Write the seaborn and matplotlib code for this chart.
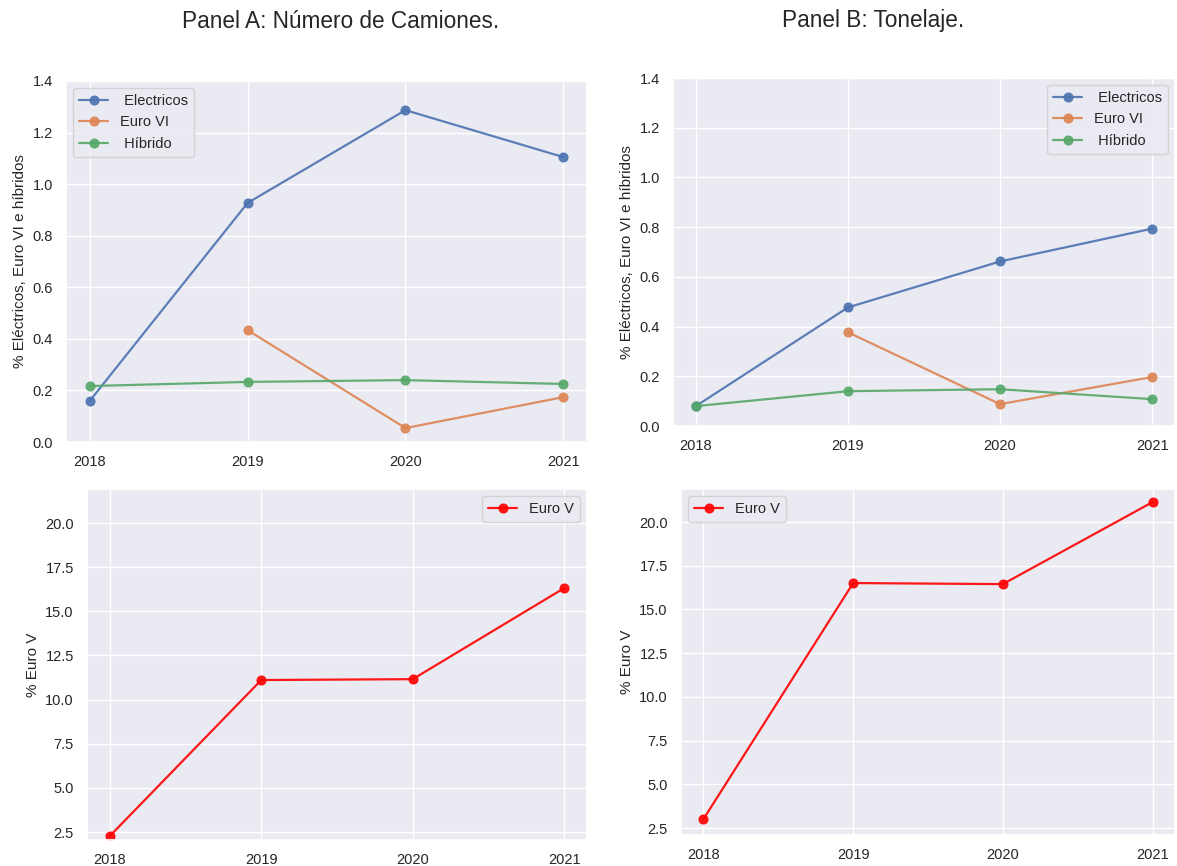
import numpy as np
import pandas as pd
import matplotlib
matplotlib.use("Agg")
import matplotlib.pyplot as plt
import seaborn as sns

years = [2018, 2019, 2020, 2021]

# Panel A: share of trucks (%)
a_electricos = [0.159, 0.927, 1.287, 1.105]
a_euro_vi = [np.nan, 0.434, 0.054, 0.174]
a_hibrido = [0.217, 0.233, 0.240, 0.225]
a_euro_v = [2.27, 11.11, 11.16, 16.32]

# Panel B: share of tonnage (%)
b_electricos = [0.080, 0.477, 0.662, 0.794]
b_euro_vi = [np.nan, 0.377, 0.088, 0.197]
b_hibrido = [0.080, 0.140, 0.148, 0.108]
b_euro_v = [3.01, 16.51, 16.45, 21.14]

series_names = [" Electricos", "Euro VI", " Híbrido"]
euro_v_name = "Euro V"
titles = ["Panel A: Número de Camiones.", "Panel B: Tonelaje."]
ylabel_top = "% Eléctricos, Euro VI e híbridos"
ylabel_bottom = "% Euro V"

sns.set_theme(style="darkgrid")
plt.rcParams['font.family'] = ['Liberation Sans', 'DejaVu Sans']
palette = sns.color_palette("deep")

W, H = 1177, 866
fig = plt.figure(figsize=(W / 100, H / 100), dpi=100)


def px_axes(left, top, right, bottom):
    return fig.add_axes([left / W, 1 - bottom / H, (right - left) / W, (bottom - top) / H])


ax_tl = px_axes(66, 81, 587, 442)
ax_tr = px_axes(673, 78, 1175, 426)
ax_bl = px_axes(87, 489, 587, 840)
ax_br = px_axes(681, 489, 1175, 835)


def draw_top(ax, el, e6, hy, legend_loc):
    for vals, name, col in zip([el, e6, hy], series_names, palette[:3]):
        df = pd.DataFrame({"year": years, "value": vals}).dropna()
        sns.lineplot(data=df, x="year", y="value", marker="o", color=col,
                     markeredgecolor=col, markersize=6.5, linewidth=1.6,
                     alpha=0.9, label=name, ax=ax)
    ax.set_ylim(0, 1.4)
    ax.set_ylabel(ylabel_top, fontsize=11)
    ax.legend(loc=legend_loc, fontsize=10.5)


def draw_bottom(ax, vals, legend_loc, ylim):
    df = pd.DataFrame({"year": years, "value": vals})
    sns.lineplot(data=df, x="year", y="value", marker="o", color="red",
                 markeredgecolor="red", markersize=6.5, linewidth=1.6,
                 alpha=0.9, label=euro_v_name, ax=ax)
    ax.set_ylim(*ylim)
    ax.set_yticks([2.5, 5.0, 7.5, 10.0, 12.5, 15.0, 17.5, 20.0])
    ax.set_ylabel(ylabel_bottom, fontsize=11)
    ax.legend(loc=legend_loc, fontsize=10.5)


draw_top(ax_tl, a_electricos, a_euro_vi, a_hibrido, "upper left")
draw_top(ax_tr, b_electricos, b_euro_vi, b_hibrido, "upper right")
draw_bottom(ax_bl, a_euro_v, "upper right", (2.05, 21.93))
draw_bottom(ax_br, b_euro_v, "upper left", (2.1, 21.89))

for ax in [ax_tl, ax_tr, ax_bl, ax_br]:
    ax.set_xticks(years)
    ax.set_xticklabels([str(y) for y in years])
    ax.set_xlim(2017.85, 2021.15)
    ax.set_xlabel("")
    ax.tick_params(labelsize=10.5)

fig.text(341 / W, 1 - 21 / H, titles[0], ha="center", va="center", fontsize=16.3)
fig.text(873 / W, 1 - 21 / H, titles[1], ha="center", va="center", fontsize=16.3)

fig.savefig("out.png", dpi=100)
